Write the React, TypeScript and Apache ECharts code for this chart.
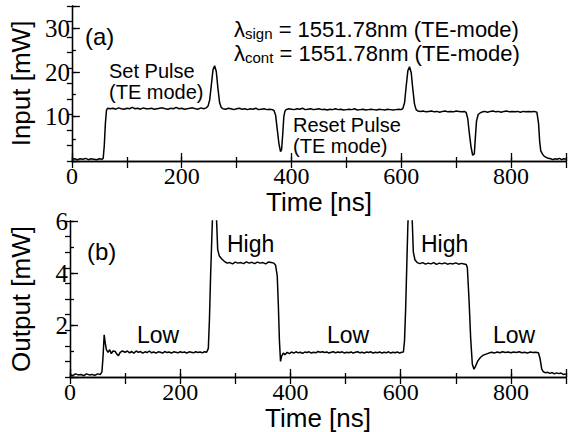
import React, { useEffect, useRef } from "react";
import * as echarts from "echarts";

// Input power trace [time ns, power mW]
const inputTrace: [number, number][] = [
  [0,0.4],[5,0.5],[10,0.3],[15,0.5],[20,0.4],[25,0.6],[30,0.3],[35,0.5],[40,0.4],[45,0.3],[50,0.5],[55,0.4],
  [57,0.6],[59,3.5],[61,8.5],[63,11.5],[65,11.9],
  [70,11.8],[75,11.9],[80,11.7],[85,12.0],[90,11.8],[95,11.7],[100,11.9],[105,11.8],[110,12.1],[115,11.8],[120,11.9],[125,11.7],[130,12.0],[135,11.8],[140,11.8],[145,11.9],[150,11.7],[155,11.8],[160,11.9],[165,12.0],[170,11.8],[175,11.7],[180,11.9],[185,11.8],[190,12.1],[195,11.8],[200,11.9],[205,11.7],[210,11.8],[215,11.9],[220,12.0],[225,11.8],[230,11.7],[235,12.0],[240,11.8],[245,12.0],
  [248,12.4],[251,13.8],[254,17.2],[257,20.6],[260,21.5],[263,20.2],[266,16.4],[269,13.2],[272,12.1],
  [275,11.8],[280,11.7],[285,11.9],[290,11.8],[295,11.6],[300,11.8],[305,11.9],[310,11.7],[315,11.8],[320,11.6],[325,11.8],[330,11.7],[335,11.9],[340,11.6],[345,11.7],[350,11.8],[355,11.6],[360,11.7],[365,11.6],[368,11.4],
  [371,10.4],[374,7.2],[377,4.0],[380,2.1],[382,2.6],[384,6.0],[386,10.0],[388,11.2],[390,11.6],
  [395,11.8],[400,11.7],[405,11.6],[410,11.8],[415,11.7],[420,11.9],[425,11.6],[430,11.7],[435,11.8],[440,11.6],[445,11.7],[450,11.8],[455,11.6],[460,11.7],[465,11.5],[470,11.7],[475,11.6],[480,11.8],[485,11.6],[490,11.7],[495,11.5],[500,11.6],[505,11.7],[510,11.6],[515,11.8],[520,11.5],[525,11.6],[530,11.7],[535,11.5],[540,11.6],[545,11.7],[550,11.6],[555,11.5],[560,11.7],[565,11.6],[570,11.5],[575,11.7],[580,11.6],[585,11.5],[590,11.6],[595,11.7],[600,11.6],
  [603,11.9],[606,13.2],[609,17.0],[612,20.4],[615,21.3],[618,20.0],[621,16.2],[624,12.9],[627,11.6],
  [630,11.3],[635,11.2],[640,11.3],[645,11.1],[650,11.2],[655,11.3],[660,11.1],[665,11.2],[670,11.0],[675,11.2],[680,11.3],[685,11.1],[690,11.2],[695,11.1],[700,11.3],[705,11.2],[710,11.1],[715,11.2],[718,11.0],
  [721,9.6],[724,6.2],[727,3.2],[730,1.3],[733,1.6],[735,5.5],[737,9.0],[740,10.5],[744,10.9],
  [748,11.1],[752,11.2],[757,11.0],[762,11.2],[767,11.3],[772,11.1],[777,11.2],[782,11.0],[787,11.2],[792,11.3],[797,11.1],[802,11.2],[807,11.1],[812,11.2],[817,11.0],[822,11.2],[827,11.1],[832,11.2],[837,11.1],[842,11.2],[847,11.0],
  [850,8.5],[852,4.5],[854,2.3],[857,1.6],[860,1.1],[864,0.8],[868,0.6],[872,0.5],[876,0.3],[880,0.5],[884,0.4],[888,0.6],[892,0.3],[896,0.5],[900,0.4],
];

// Output power trace [time ns, power mW]
const outputTrace: [number, number][] = [
  [0,0.1],[5,0.05],[10,0.12],[15,0.08],[20,0.1],[25,0.05],[30,0.12],[35,0.08],[40,0.1],[45,0.06],[50,0.12],[55,0.1],
  [58,0.2],[60,0.8],[62,1.62],[64,1.3],[66,1.05],[69,0.95],[72,1.05],[75,0.9],[78,1.0],[82,0.98],[85,0.88],[88,0.82],[91,0.95],[95,1.0],
  [100,0.95],[104,1.0],[108,0.93],[112,0.98],[116,0.92],[120,1.0],[124,0.95],[128,0.98],[132,0.92],[136,0.97],[140,0.94],[144,1.0],[148,0.93],[152,0.96],[156,0.92],[160,0.97],[164,0.95],[168,0.92],[172,0.98],[176,0.94],[180,0.96],[184,0.92],[188,0.97],[192,0.95],[196,0.93],[200,0.97],[204,0.94],[208,0.96],[212,0.92],[216,0.97],[220,0.95],[224,0.93],[228,0.97],[232,0.94],[236,0.96],[240,0.93],[244,0.97],[248,0.95],
  [251,1.1],[253,2.2],[255,3.8],[258,5.8],[261,7.5],[264,7.2],[266,6.0],[268,4.9],[271,4.65],[275,4.55],[280,4.45],
  [285,4.38],[290,4.4],[295,4.35],[300,4.42],[305,4.38],[310,4.4],[315,4.36],[320,4.43],[325,4.38],[330,4.41],[335,4.36],[340,4.42],[345,4.38],[350,4.4],[355,4.35],[360,4.42],[365,4.4],[370,4.38],
  [373,4.3],[376,3.9],[378,2.8],[380,1.4],[382,0.6],[384,0.8],[387,0.92],[390,0.86],[394,0.95],
  [398,0.9],[402,0.96],[406,0.92],[410,0.97],[414,0.93],[418,0.95],[422,0.91],[426,0.96],[430,0.94],[434,0.97],[438,0.92],[442,0.95],[446,0.93],[450,0.98],[454,0.95],[458,0.97],[462,0.94],[466,0.96],[470,0.92],[474,0.95],[478,0.97],[482,0.93],[486,0.96],[490,0.94],[494,0.97],[498,0.92],[502,0.95],[506,0.93],[510,0.96],[514,0.92],[518,0.95],[522,0.97],[526,0.93],[530,0.95],[534,0.92],[538,0.96],[542,0.94],[546,0.97],[550,0.92],[554,0.95],[558,0.93],[562,0.96],[566,0.92],[570,0.95],[574,0.93],[578,0.97],[582,0.92],[586,0.95],[590,0.93],[594,0.96],[598,0.92],[602,0.95],[605,0.96],
  [607,1.4],[609,2.6],[611,4.2],[613,5.8],[616,7.5],[619,7.2],[621,6.0],[623,4.8],[626,4.5],[630,4.4],
  [635,4.36],[640,4.4],[645,4.34],[650,4.38],[655,4.35],[660,4.4],[665,4.33],[670,4.38],[675,4.35],[680,4.39],[685,4.34],[690,4.37],[695,4.35],[700,4.39],[705,4.34],[710,4.37],[715,4.35],[719,4.33],
  [721,4.2],[724,3.0],[727,1.5],[730,0.5],[733,0.3],[736,0.42],[740,0.62],[745,0.76],[750,0.84],[755,0.88],[760,0.92],
  [765,0.95],[770,0.92],[775,0.96],[780,0.93],[785,0.97],[790,0.94],[795,0.96],[800,0.93],[805,0.96],[810,0.94],[815,0.97],[820,0.93],[825,0.95],[830,0.92],[835,0.96],[840,0.94],[845,0.95],[850,0.93],
  [853,0.7],[856,0.3],[859,0.2],[863,0.16],[867,0.18],[871,0.14],[875,0.17],[879,0.12],[883,0.16],[887,0.13],[891,0.15],[895,0.1],[900,0.12],
];

const topYLabels = [10, 20, 30];
const bottomYLabels = [2, 4, 6];
const xLabels = [0, 200, 400, 600, 800];

const BLACK = "#000";
const SERIF = "Liberation Serif";
const SANS = "Liberation Sans";

export default function App() {
  const ref = useRef<HTMLDivElement>(null);
  useEffect(() => {
    if (!ref.current) return;
    const chart = echarts.init(ref.current, undefined, { renderer: "svg" });
    const line = { color: BLACK, width: 1.3 };
    const nameStyle = { color: BLACK, fontFamily: SANS, fontSize: 26, fontWeight: "normal" };

    const bottomX = (gi: number, name: string, gap: number) => ({
      gridIndex: gi, type: "value", min: 0, max: 900, interval: 200, position: "bottom",
      axisLine: { show: true, lineStyle: line },
      axisTick: { show: true, inside: true, length: 8, lineStyle: line },
      splitLine: { show: false },
      axisLabel: {
        show: true, margin: 3, color: BLACK, fontFamily: SERIF, fontSize: 24,
        formatter: (v: number) => (xLabels.includes(v) ? String(v) : ""),
      },
      name, nameLocation: "middle", nameGap: gap,
      nameTextStyle: nameStyle,
    });
    const minorX = (gi: number) => ({
      gridIndex: gi, type: "value", min: 0, max: 900, interval: 100, position: "bottom",
      axisLine: { show: false }, axisLabel: { show: false }, splitLine: { show: false },
      axisTick: { show: true, inside: true, length: 4, lineStyle: line },
    });
    const topX = (gi: number) => ({
      gridIndex: gi, type: "value", min: 0, max: 900, interval: 100, position: "top",
      axisLine: { show: true, lineStyle: line }, axisLabel: { show: false }, splitLine: { show: false },
      axisTick: { show: true, inside: true, length: 7, lineStyle: line },
    });
    const leftY = (gi: number, max: number, interval: number, labels: number[], name: string, gap: number) => ({
      gridIndex: gi, type: "value", min: 0, max, interval, position: "left",
      axisLine: { show: true, lineStyle: line },
      axisTick: { show: true, inside: true, length: 8, lineStyle: line },
      splitLine: { show: false },
      axisLabel: {
        show: true, margin: 2, color: BLACK, fontFamily: SERIF, fontSize: 25,
        formatter: (v: number) => (labels.includes(v) ? String(v) : ""),
      },
      name, nameLocation: "middle", nameGap: gap, nameRotate: 90,
      nameTextStyle: nameStyle,
    });
    const minorY = (gi: number, max: number, interval: number) => ({
      gridIndex: gi, type: "value", min: 0, max, interval, position: "left",
      axisLine: { show: false }, axisLabel: { show: false }, splitLine: { show: false },
      axisTick: { show: true, inside: true, length: 4, lineStyle: line },
    });
    const rightY = (gi: number, max: number, interval: number) => ({
      gridIndex: gi, type: "value", min: 0, max, interval, position: "right",
      axisLine: { show: true, lineStyle: line }, axisLabel: { show: false }, splitLine: { show: false },
      axisTick: { show: true, inside: true, length: 5, lineStyle: line },
    });

    const richLambda = {
      l: { font: `22px ${SANS}`, fill: BLACK },
      s: { font: `15px ${SANS}`, fill: BLACK, padding: [8, 0, 0, 0] },
    };

    chart.setOption({
      animation: false,
      grid: [
        { left: 68, top: 6, width: 498, height: 155, containLabel: false },
        { left: 68, top: 221, width: 498, height: 156, containLabel: false },
      ],
      xAxis: [
        bottomX(0, "Time [ns]", 15), minorX(0), topX(0),
        bottomX(1, "Time [ns]", 18), minorX(1), topX(1),
      ],
      yAxis: [
        leftY(0, 35, 10, topYLabels, "Input [mW]", 36), minorY(0, 35, 5), rightY(0, 35, 3.5),
        leftY(1, 6, 2, bottomYLabels, "Output [mW]", 36), minorY(1, 6, 1), rightY(1, 6, 0.6),
      ],
      series: [
        {
          type: "line", xAxisIndex: 0, yAxisIndex: 0, data: inputTrace, showSymbol: false,
          lineStyle: { color: BLACK, width: 1.5 }, clip: true, silent: true,
        },
        {
          type: "line", xAxisIndex: 3, yAxisIndex: 3, data: outputTrace, showSymbol: false,
          lineStyle: { color: BLACK, width: 1.5 }, clip: true, silent: true,
        },
      ],
      graphic: [
        { type: "text", left: 85, top: 24, style: { text: "(a)", font: `24px ${SANS}`, fill: BLACK } },
        { type: "text", left: 234, top: 18, style: { text: "{l|λ}{s|sign}{l| = 1551.78nm (TE-mode)}", rich: richLambda } },
        { type: "text", left: 234, top: 42, style: { text: "{l|λ}{s|cont}{l| = 1551.78nm (TE-mode)}", rich: richLambda } },
        { type: "text", left: 109, top: 60, style: { text: "Set Pulse\n(TE mode)", font: `20px ${SANS}`, lineHeight: 21, fill: BLACK } },
        { type: "text", left: 293, top: 114, style: { text: "Reset Pulse\n(TE mode)", font: `20px ${SANS}`, lineHeight: 21, fill: BLACK } },
        { type: "text", left: 87, top: 239, style: { text: "(b)", font: `24px ${SANS}`, fill: BLACK } },
        { type: "text", left: 227, top: 232, style: { text: "High", font: `23px ${SANS}`, fill: BLACK } },
        { type: "text", left: 421, top: 232, style: { text: "High", font: `23px ${SANS}`, fill: BLACK } },
        { type: "text", left: 137, top: 323, style: { text: "Low", font: `23px ${SANS}`, fill: BLACK } },
        { type: "text", left: 327, top: 323, style: { text: "Low", font: `23px ${SANS}`, fill: BLACK } },
        { type: "text", left: 493, top: 323, style: { text: "Low", font: `23px ${SANS}`, fill: BLACK } },
      ],
    });
    return () => chart.dispose();
  }, []);
  return (
    <div
      ref={ref}
      style={{ position: "fixed", left: 0, top: 0, width: 571, height: 432, background: "#fff" }}
    />
  );
}
